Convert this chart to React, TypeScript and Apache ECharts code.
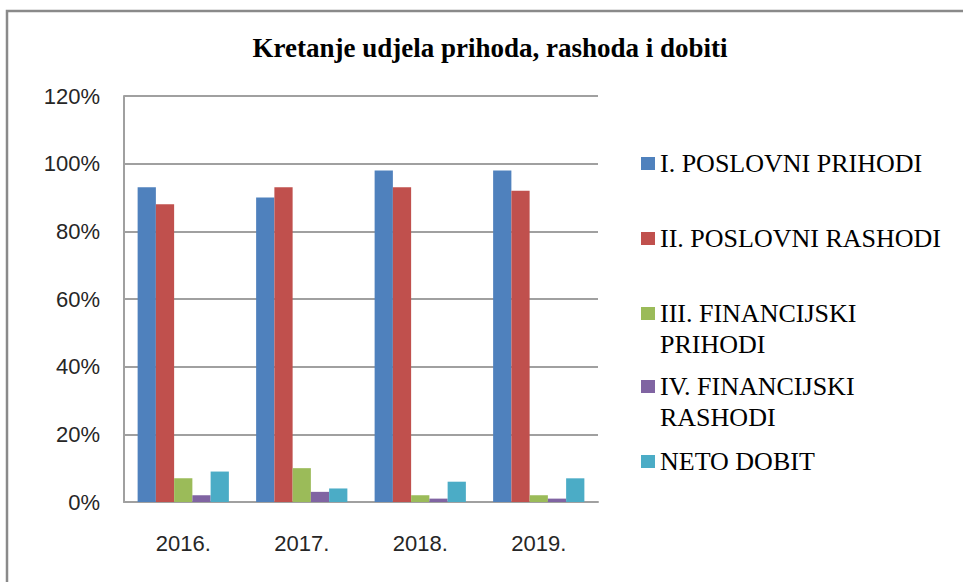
import React, { useEffect, useRef } from "react";
import * as echarts from "echarts";

const categories = ["2016.", "2017.", "2018.", "2019."];
const seriesNames = [
  "I. POSLOVNI PRIHODI",
  "II. POSLOVNI RASHODI",
  "III. FINANCIJSKI PRIHODI",
  "IV. FINANCIJSKI RASHODI",
  "NETO DOBIT",
];
const legendLabels = [
  "I. POSLOVNI PRIHODI",
  "II. POSLOVNI RASHODI",
  "III. FINANCIJSKI\nPRIHODI",
  "IV. FINANCIJSKI\nRASHODI",
  "NETO DOBIT",
];
const poslovniPrihodi = [0.93, 0.9, 0.98, 0.98];
const poslovniRashodi = [0.88, 0.93, 0.93, 0.92];
const financijskiPrihodi = [0.07, 0.1, 0.02, 0.02];
const financijskiRashodi = [0.02, 0.03, 0.01, 0.01];
const netoDobit = [0.09, 0.04, 0.06, 0.07];
const seriesValues = [poslovniPrihodi, poslovniRashodi, financijskiPrihodi, financijskiRashodi, netoDobit];
const colors = ["#4F81BD", "#C0504D", "#9BBB59", "#8064A2", "#4BACC6"];
const titleText = "Kretanje udjela prihoda, rashoda i dobiti";

const legendTops = [148, 223, 298, 371, 446];

export default function App() {
  const ref = useRef<HTMLDivElement>(null);
  useEffect(() => {
    if (!ref.current) return;
    const chart = echarts.init(ref.current, null, { renderer: "svg" });
    const serif = "Liberation Serif";
    const sans = "Liberation Sans";
    const tallIcon = "path://M0,0h0.01v0.01h-0.01z M0,9h14v13h-14z M0,62h0.01v0.01h-0.01z";
    chart.setOption({
      animation: false,
      backgroundColor: "#ffffff",
      color: colors,
      textStyle: { fontFamily: serif },
      title: {
        text: titleText,
        left: 490,
        top: 33,
        padding: 0,
        textAlign: "center",
        textStyle: { fontFamily: serif, fontWeight: "bold", fontSize: 27, lineHeight: 30, color: "#000" },
      },
      graphic: [
        {
          type: "rect",
          shape: { x: 7, y: 11, width: 1000, height: 1000 },
          style: { fill: "none", stroke: "#8a8a8a", lineWidth: 2.5 },
          silent: true,
        },
      ],
      legend: seriesNames.map((name, i) => {
        const twoLine = legendLabels[i].indexOf("\n") >= 0;
        return {
          data: [name],
          orient: "vertical",
          left: 641,
          top: legendTops[i],
          padding: 0,
          itemWidth: 14,
          itemHeight: twoLine ? 62 : 13,
          itemGap: 0,
          icon: twoLine ? tallIcon : "rect",
          selectedMode: false,
          formatter: () => legendLabels[i],
          textStyle: {
            fontFamily: serif,
            fontSize: 26,
            lineHeight: 31,
            color: "#000",
          },
        };
      }),
      grid: { left: 124, top: 96, width: 474, height: 406, containLabel: false },
      xAxis: {
        type: "category",
        data: categories,
        axisLine: { show: true, lineStyle: { color: "#a0a0a0", width: 2 } },
        axisTick: { show: false },
        axisLabel: { margin: 30, fontFamily: sans, fontSize: 22, color: "#262626" },
      },
      yAxis: {
        type: "value",
        min: 0,
        max: 1.2,
        interval: 0.2,
        axisLine: { show: true, lineStyle: { color: "#a0a0a0", width: 2 } },
        axisTick: { show: false },
        splitLine: { show: true, lineStyle: { color: "#a0a0a0", width: 2 } },
        axisLabel: {
          margin: 24,
          fontFamily: sans,
          fontSize: 22,
          color: "#262626",
          formatter: (v: number) => Math.round(v * 100) + "%",
        },
      },
      series: seriesNames.map((name, i) => ({
        name,
        type: "bar",
        data: seriesValues[i],
        barGap: "0%",
        barCategoryGap: "23%",
        itemStyle: { color: colors[i] },
      })),
    });
    return () => chart.dispose();
  }, []);
  return <div ref={ref} style={{ position: "absolute", left: 0, top: 0, width: 963, height: 582 }} />;
}
